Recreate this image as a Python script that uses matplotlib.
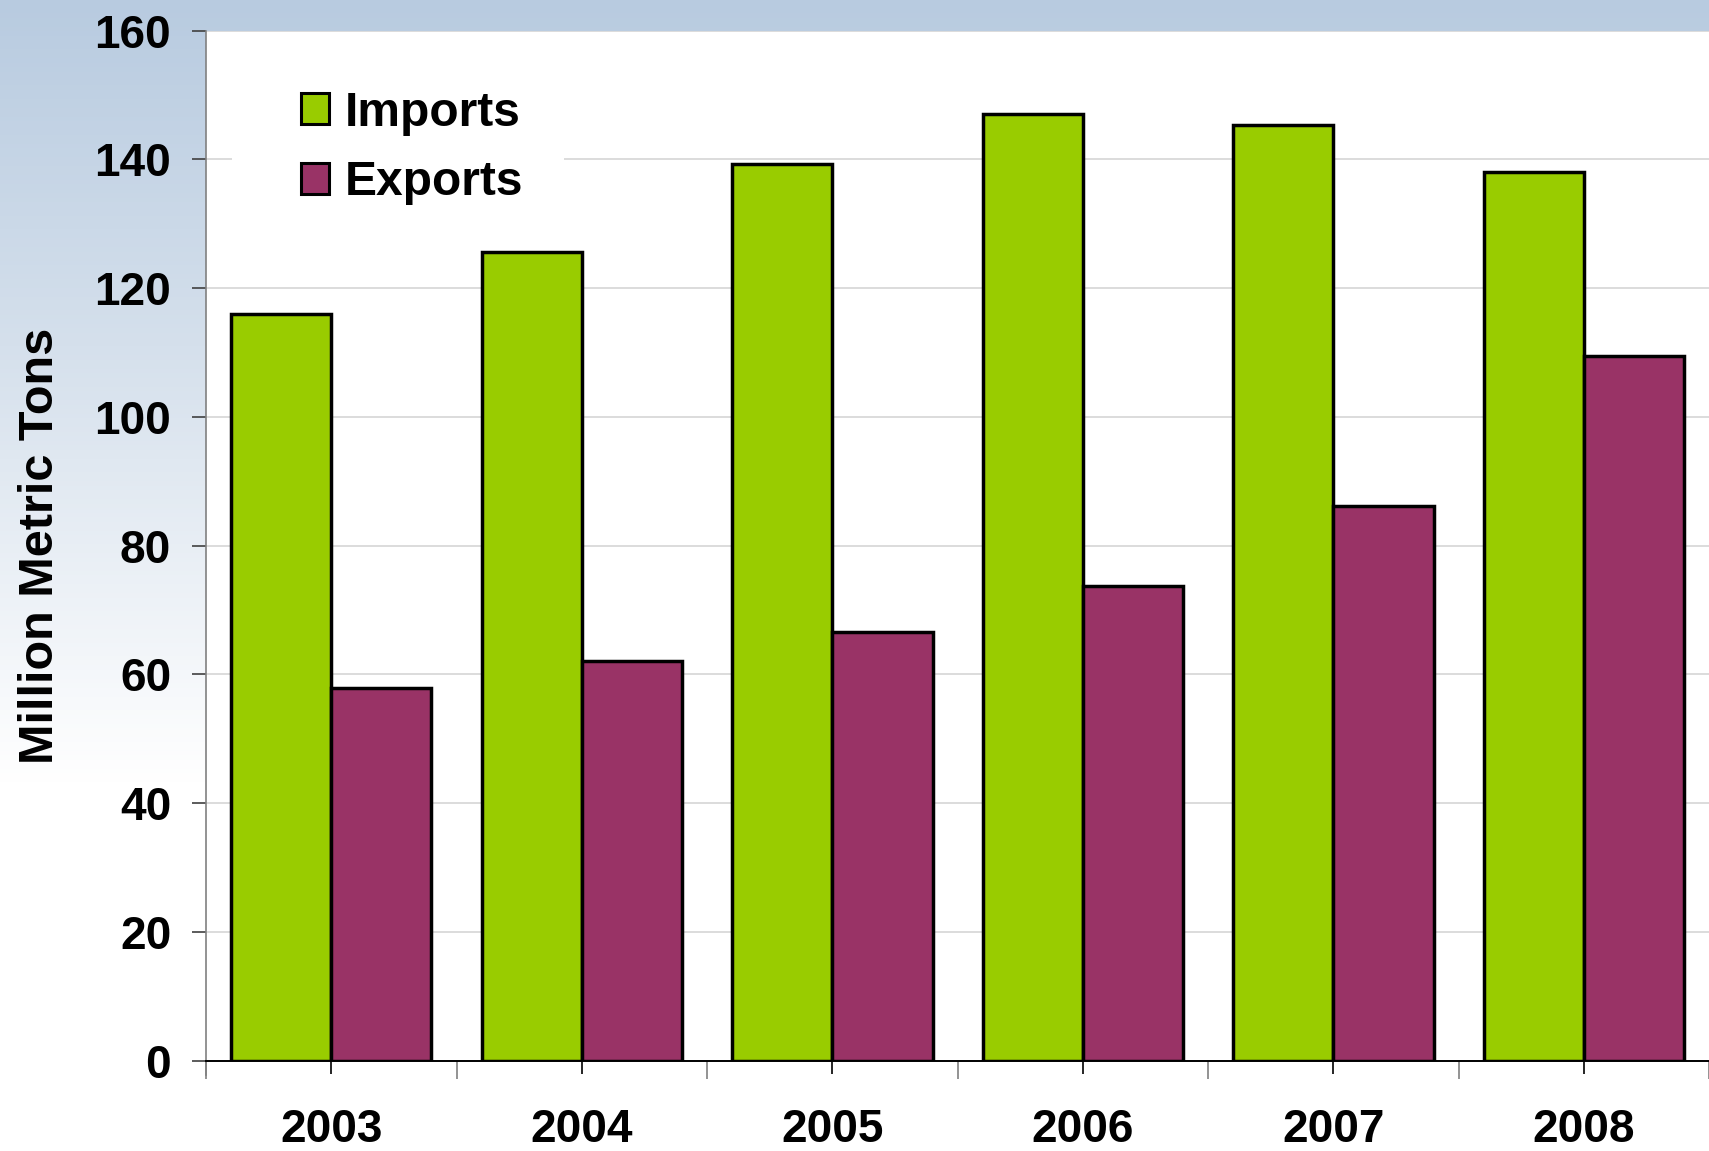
import numpy as np
import matplotlib
matplotlib.use("Agg")
import matplotlib.pyplot as plt
from matplotlib.colors import LinearSegmentedColormap
from matplotlib.patches import Rectangle

# ==================== DATA ====================
years = ["2003", "2004", "2005", "2006", "2007", "2008"]
imports = [116.0, 125.6, 139.2, 147.1, 145.3, 138.0]
exports = [57.9, 62.0, 66.5, 73.7, 86.2, 109.4]
y_ticks = [0, 20, 40, 60, 80, 100, 120, 140, 160]

IMPORT_COLOR = "#99cc00"
EXPORT_COLOR = "#993366"

plt.rcParams["font.family"] = ["Liberation Sans", "DejaVu Sans"]

# ==================== FIGURE + BACKGROUND ====================
fig = plt.figure(figsize=(17.09, 11.51), dpi=100)

bg = fig.add_axes([0, 0, 1, 1], zorder=-10)
grad = np.linspace(0, 1, 256).reshape(-1, 1)
bg_cmap = LinearSegmentedColormap.from_list(
    "bg", [(0.0, "#b8cbe0"), (0.3, "#d5e0ec"), (0.68, "#ffffff"), (1.0, "#ffffff")]
)
bg.imshow(grad, aspect="auto", cmap=bg_cmap, extent=[0, 1, 0, 1], origin="upper")
bg.set_axis_off()

# ==================== BARS ====================
ax = fig.add_axes([0.1205, 0.0786, 0.8797, 0.8949])
ax.set_facecolor("white")

x = np.arange(len(years))
w = 0.4
ax.bar(x - w / 2, imports, w, color=IMPORT_COLOR, edgecolor="black",
       linewidth=2.5, label="Imports", zorder=3)
ax.bar(x + w / 2, exports, w, color=EXPORT_COLOR, edgecolor="black",
       linewidth=2.5, label="Exports", zorder=3)

ax.set_xlim(-0.5, len(years) - 0.5)
ax.set_ylim(0, 160)

# y axis
ax.set_yticks(y_ticks)
ax.set_yticklabels([str(v) for v in y_ticks], fontweight="bold", fontsize=33)
ax.yaxis.grid(True, color="#d9d9d9", linewidth=1.3)
ax.set_axisbelow(True)
ax.tick_params(axis="y", direction="out", length=10, width=1.2,
               color="#404040", pad=15)

# x axis: long ticks on category boundaries, short ticks at centres
ax.set_xticks(np.arange(-0.5, len(years), 1.0))
ax.set_xticklabels([])
ax.set_xticks(x, minor=True)
ax.set_xticklabels(years, minor=True, fontweight="bold", fontsize=33)
ax.tick_params(axis="x", which="major", direction="out", length=13,
               width=1.2, color="#808080")
ax.tick_params(axis="x", which="minor", direction="out", length=9,
               width=1.2, color="black", pad=25)

ax.set_ylabel("Million Metric Tons", fontweight="bold", fontsize=35,
              labelpad=23)

for side in ["top", "right"]:
    ax.spines[side].set_visible(False)
ax.spines["left"].set_color("#808080")
ax.spines["left"].set_linewidth(1.2)
ax.spines["left"].set_bounds(-2.2, 160)
ax.spines["bottom"].set_color("black")
ax.spines["bottom"].set_linewidth(1.4)

# ==================== LEGEND ====================
# white panel behind the legend hides the gridline there
ax.add_patch(Rectangle((0.0174, 0.82), 0.221, 0.14, transform=ax.transAxes,
                       facecolor="white", edgecolor="none", zorder=1))
leg = ax.legend(loc="upper left", bbox_to_anchor=(0.047, 0.965),
                frameon=False,
                prop={"weight": "bold", "size": 34.5},
                handlelength=0.6, handleheight=0.6, handletextpad=0.33,
                labelspacing=0.52, borderpad=0.0)
for h in leg.legend_handles:
    h.set_linewidth(2.2)

fig.savefig("out.png", dpi=100)
